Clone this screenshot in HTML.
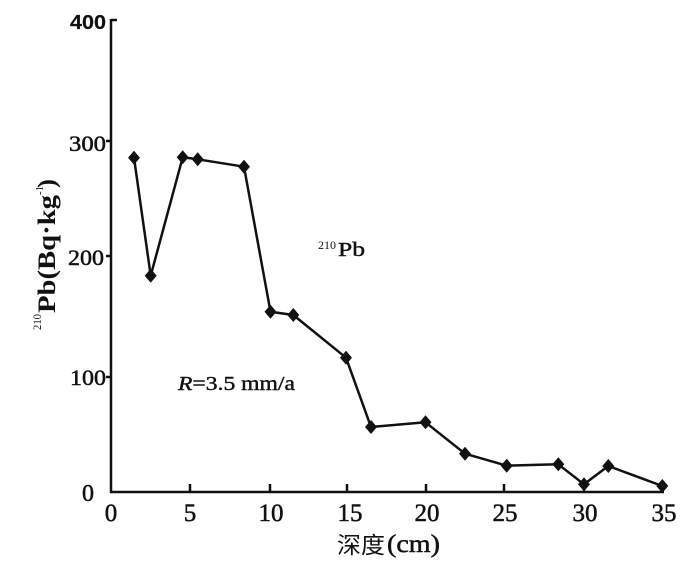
<!DOCTYPE html>
<html>
<head>
<meta charset="utf-8">
<style>
html,body{margin:0;padding:0;background:#fff;}
svg{display:block;}
</style>
</head>
<body>
<svg width="700" height="570" viewBox="0 0 700 570" xmlns="http://www.w3.org/2000/svg">
<rect width="700" height="570" fill="#fff"/>
<!-- axes -->
<g stroke="#111" stroke-width="2.5" fill="none">
<line x1="111" y1="19" x2="111" y2="493"/>
<line x1="110" y1="492" x2="664" y2="492"/>
<!-- y ticks -->
<line x1="111" y1="20" x2="117" y2="20"/>
<line x1="106" y1="141" x2="111" y2="141"/>
<line x1="106" y1="256" x2="111" y2="256"/>
<line x1="106" y1="377" x2="111" y2="377"/>
<!-- x ticks -->
<line x1="190" y1="484" x2="190" y2="492"/>
<line x1="270" y1="484" x2="270" y2="492"/>
<line x1="347" y1="484" x2="347" y2="492"/>
<line x1="426" y1="484" x2="426" y2="492"/>
<line x1="504" y1="484" x2="504" y2="492"/>
<line x1="584" y1="484" x2="584" y2="492"/>
<line x1="662" y1="484" x2="662" y2="492"/>
</g>
<!-- y tick labels -->
<g font-family="Liberation Serif, serif" font-size="22" fill="#111" stroke="#111" stroke-width="0.5" text-anchor="end">
<text x="106" y="29" font-family="Liberation Sans, sans-serif" font-weight="bold" font-size="20" stroke-width="0.2" textLength="36" lengthAdjust="spacingAndGlyphs">400</text>
<text x="106" y="151" textLength="37" lengthAdjust="spacingAndGlyphs">300</text>
<text x="104" y="265" textLength="36" lengthAdjust="spacingAndGlyphs">200</text>
<text x="106" y="385" textLength="36" lengthAdjust="spacingAndGlyphs">100</text>
<text x="94" y="501" font-size="24">0</text>
</g>
<!-- x tick labels -->
<g font-family="Liberation Serif, serif" font-size="25" fill="#111" stroke="#111" stroke-width="0.5" text-anchor="middle">
<text x="111" y="521">0</text>
<text x="190" y="521">5</text>
<text x="271" y="521">10</text>
<text x="350" y="521">15</text>
<text x="427" y="521">20</text>
<text x="505" y="521">25</text>
<text x="585" y="521">30</text>
<text x="664" y="521">35</text>
</g>
<!-- x title -->
<text x="337" y="553" font-family="Noto Sans CJK SC, sans-serif" font-size="23" fill="#111" textLength="48" lengthAdjust="spacingAndGlyphs">深度</text>
<text x="387" y="552" font-family="Liberation Serif, serif" font-size="25" fill="#111" stroke="#111" stroke-width="0.5" textLength="53" lengthAdjust="spacingAndGlyphs">(cm)</text>
<!-- y title -->
<g transform="translate(55,330) rotate(-90)" fill="#111" font-family="Liberation Serif, serif">
<text x="0" y="-14" font-size="12" textLength="16" lengthAdjust="spacingAndGlyphs">210</text>
<text x="17" y="0" font-size="25" font-weight="bold" textLength="118" lengthAdjust="spacingAndGlyphs">Pb(Bq·kg</text>
<text x="135" y="-12" font-size="11">-1</text>
<text x="142" y="0" font-size="25" font-weight="bold" textLength="9" lengthAdjust="spacingAndGlyphs">)</text>
</g>
<!-- annotations -->
<text x="318" y="249" font-family="Liberation Serif, serif" font-size="12" fill="#111" textLength="18" lengthAdjust="spacingAndGlyphs">210</text>
<text x="338" y="256" font-family="Liberation Serif, serif" font-size="20" fill="#111" stroke="#111" stroke-width="0.4" textLength="27" lengthAdjust="spacingAndGlyphs">Pb</text>
<text x="178" y="390" font-family="Liberation Serif, serif" font-size="20" fill="#111" stroke="#111" stroke-width="0.4" textLength="117" lengthAdjust="spacingAndGlyphs"><tspan font-style="italic">R</tspan>=3.5 mm/a</text>
<!-- series -->
<polyline fill="none" stroke="#111" stroke-width="2.5" stroke-linejoin="round"
points="134,157.7 150.7,275.7 182.7,157.3 197.7,159.3 244,166.7 270.5,311.8 293.3,315 346,357.7 371,427 425.5,422.3 465,453.7 506.7,465.7 558.3,464.3 584,484.3 608.3,466 662.3,486"/>
<g fill="#111">
<path d="M134,150.7 l6,7 l-6,7 l-6,-7z"/>
<path d="M150.7,268.7 l6,7 l-6,7 l-6,-7z"/>
<path d="M182.7,150.3 l6,7 l-6,7 l-6,-7z"/>
<path d="M197.7,152.3 l6,7 l-6,7 l-6,-7z"/>
<path d="M244,159.7 l6,7 l-6,7 l-6,-7z"/>
<path d="M270.5,304.8 l6,7 l-6,7 l-6,-7z"/>
<path d="M293.3,308 l6,7 l-6,7 l-6,-7z"/>
<path d="M346,350.7 l6,7 l-6,7 l-6,-7z"/>
<path d="M371,420 l6,7 l-6,7 l-6,-7z"/>
<path d="M425.5,415.3 l6,7 l-6,7 l-6,-7z"/>
<path d="M465,446.7 l6,7 l-6,7 l-6,-7z"/>
<path d="M506.7,458.7 l6,7 l-6,7 l-6,-7z"/>
<path d="M558.3,457.3 l6,7 l-6,7 l-6,-7z"/>
<path d="M584,477.3 l6,7 l-6,7 l-6,-7z"/>
<path d="M608.3,459 l6,7 l-6,7 l-6,-7z"/>
<path d="M662.3,479 l6,7 l-6,7 l-6,-7z"/>
</g>
</svg>
</body>
</html>
